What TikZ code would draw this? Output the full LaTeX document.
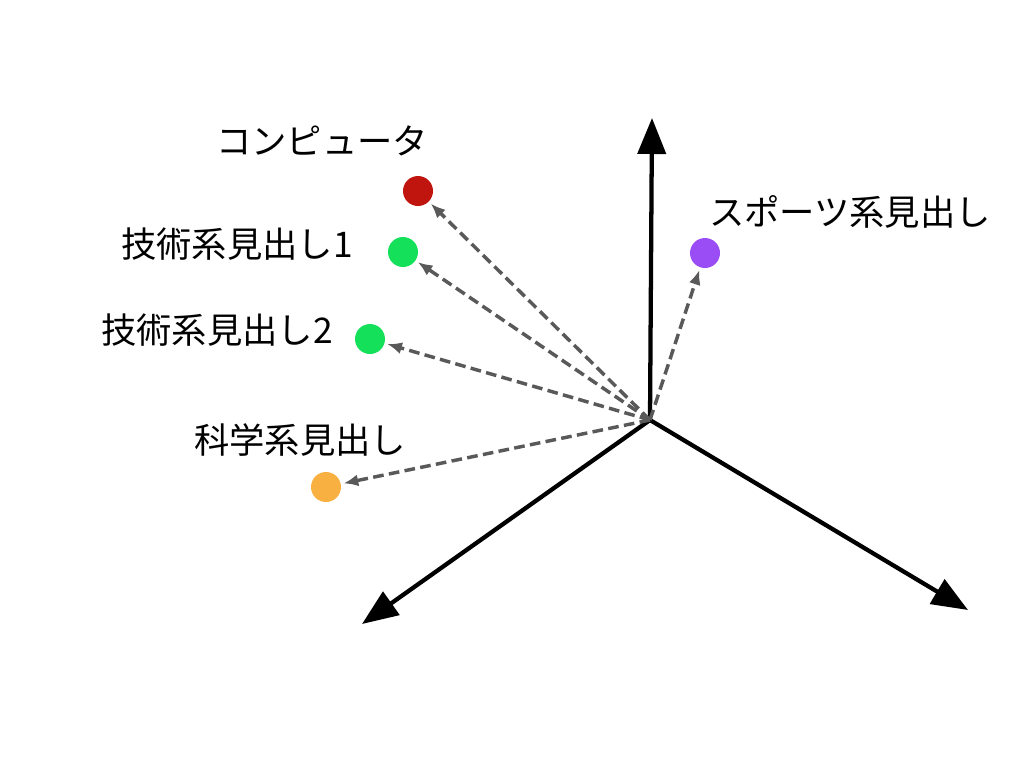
\documentclass[tikz,border=0pt]{standalone}
\usepackage{fontspec}
\setmainfont{Noto Sans CJK JP}
\usetikzlibrary{arrows.meta}
\definecolor{dotred}{HTML}{C0140E}
\definecolor{dotgreen}{HTML}{14E05A}
\definecolor{dotorange}{HTML}{F8B040}
\definecolor{dotpurple}{HTML}{9B4DF5}
\begin{document}
\begin{tikzpicture}[x=0.75pt,y=-0.75pt]
        \tikzset{dot/.style = {shape=circle,minimum size=22.5pt,inner sep=0pt}}
        \tikzset{axis/.style = {line width=3.2pt,-{Triangle[length=27pt,width=21pt]}}}
        \tikzset{vec/.style = {draw=black!65,line width=2.6pt,dash pattern=on 8pt off 4pt,-{Latex[length=11pt,width=9pt]},shorten >=2pt}}
        \tikzset{lbl/.style = {font=\fontsize{26.5}{30}\selectfont}}
        \useasboundingbox (0,0) rectangle (1026,758);
        \coordinate (o) at (650,420);
        \coordinate (up) at (652,118);
        \coordinate (left) at (362,624);
        \coordinate (right) at (968,610);

        \draw[axis] (o) to (up);
        \draw[axis] (o) to (left);
        \draw[axis] (o) to (right);

        \node[dot,fill=dotred] (comp) at (418,191) {};
        \node[dot,fill=dotgreen] (tech1) at (403,252) {};
        \node[dot,fill=dotgreen] (tech2) at (370,339) {};
        \node[dot,fill=dotorange] (sci) at (326,487) {};
        \node[dot,fill=dotpurple] (sport) at (705,253) {};

        \node[lbl] (l1) at (322,141) {コンピュータ};
        \node[lbl] (l2) at (237,244) {技術系見出し1};
        \node[lbl] (l3) at (217,330) {技術系見出し2};
        \node[lbl] (l4) at (300,440) {科学系見出し};
        \node[lbl] (l5) at (850,212) {スポーツ系見出し};

        \draw[vec] (o) to (comp);
        \draw[vec] (o) to (tech1);
        \draw[vec] (o) to (tech2);
        \draw[vec] (o) to (sci);
        \draw[vec] (o) to (sport);
      \end{tikzpicture}
\end{document}
